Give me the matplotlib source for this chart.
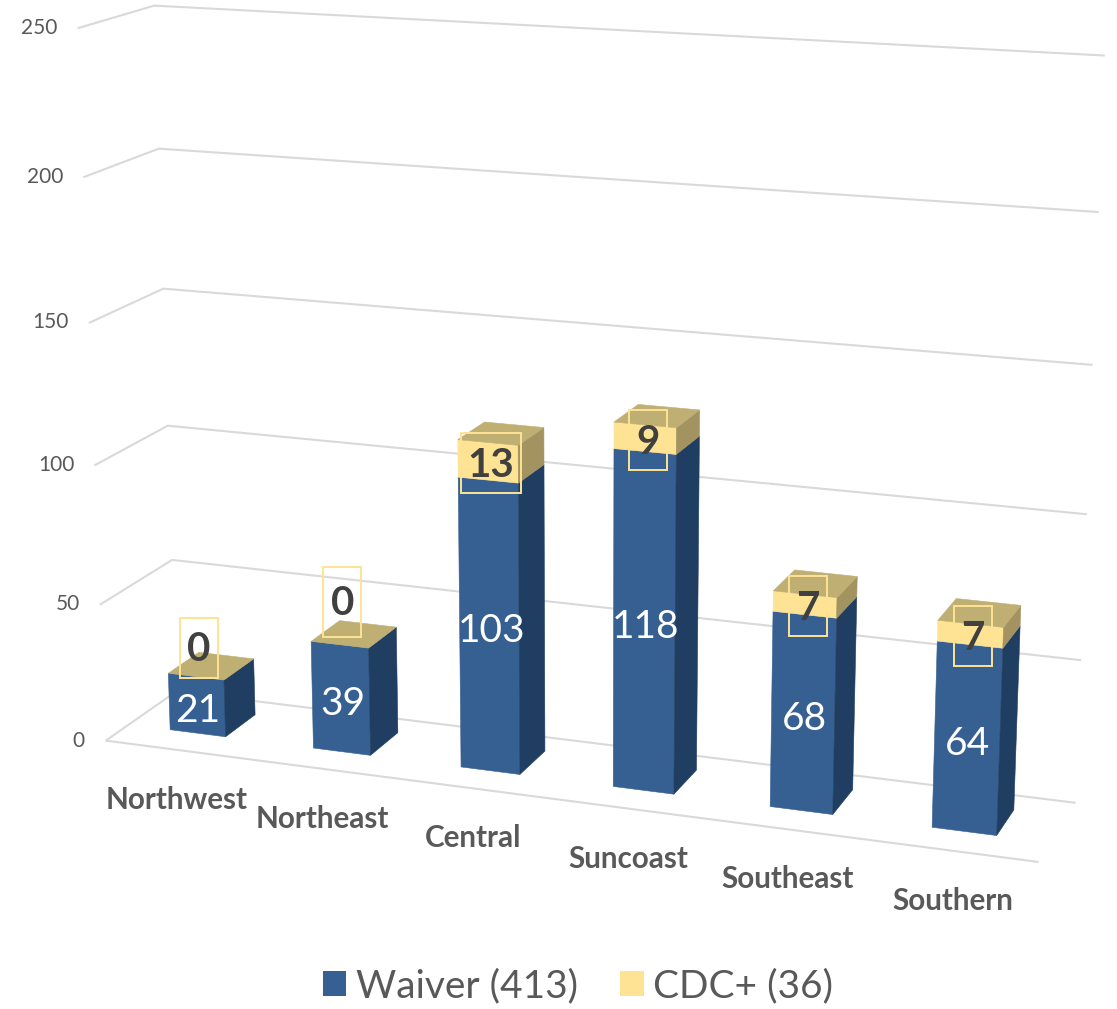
"""Fake 3D stacked columns, drawn through a fitted perspective projection."""

import matplotlib
matplotlib.use("Agg")
import matplotlib.pyplot as plt
from matplotlib.patches import Patch, Polygon, Rectangle
import numpy as np

regions = ["Northwest", "Northeast", "Central", "Suncoast", "Southeast", "Southern"]
waiver = [21, 39, 103, 118, 68, 64]
cdc = [0, 0, 13, 9, 7, 7]
ticks = [0, 50, 100, 150, 200, 250]
legend_labels = ["Waiver (413)", "CDC+ (36)"]

BLUE = "#376092"
BLUE_SIDE = "#203E62"
YELLOW = "#FEE395"
YELLOW_SIDE = "#A29360"
TAN = "#C0AF72"
GRID = "#D9D9D9"

# chart box corners on screen: (x across, depth, value) -> pixel
left_front = {0: (107, 740), 50: (101, 603), 100: (95, 466), 150: (89, 323), 200: (84, 177), 250: (78, 28)}
left_back = {0: (175, 693), 50: (172, 559), 100: (168, 425), 150: (163, 289), 200: (160, 149), 250: (155, 5)}
right_back = {0: (1075, 802), 50: (1081, 660), 100: (1085, 515), 150: (1090, 365), 200: (1097, 212), 250: (1105, 55)}
right_front_floor = (1038, 862)


def fit_projection():
    rows, rhs = [], []

    def add(u, d, v, px, py):
        w = v / 250
        rows.append([u, d, w, 1, 0, 0, 0, 0, -px * u, -px * d, -px * w])
        rhs.append(px)
        rows.append([0, 0, 0, 0, u, d, w, 1, -py * u, -py * d, -py * w])
        rhs.append(py)

    for v in ticks:
        add(0, 0, v, *left_front[v])
        add(0, 1, v, *left_back[v])
        add(1, 1, v, *right_back[v])
    add(1, 0, 0, *right_front_floor)
    p = np.linalg.lstsq(np.array(rows, float), np.array(rhs, float), rcond=None)[0]
    return np.append(p, 1).reshape(3, 4)


P = fit_projection()


def proj(u, d, v):
    h = P @ np.array([u, d, v / 250, 1.0])
    return h[0] / h[2], h[1] / h[2]


BAR_W = 0.0325
D0, D1 = 0.32, 0.76
ZERO_LABEL_DY = {0: -27, 1: -41}

fig = plt.figure(figsize=(11.17, 10.09), dpi=100)
ax = fig.add_axes([0, 0, 1, 1])
ax.set_xlim(0, 1117)
ax.set_ylim(1009, 0)
ax.axis("off")
plt.rcParams["font.family"] = ["Lato", "DejaVu Sans"]

# walls and floor
for v in ticks:
    pts = [proj(0, 0, v), proj(0, 1, v), proj(1, 1, v)]
    if v == 0:
        pts = [proj(1, 0, 0)] + pts
    ax.plot(*zip(*pts), color=GRID, lw=1.5, zorder=1, solid_joinstyle="miter")
    x, y = proj(0, 0, v)
    ax.text(x - 21, y, str(v), ha="right", va="center", fontsize=15, color="#595959")


def box(u0, u1, v0, v1, front, side, top=None, z=2):
    ax.add_patch(Polygon([proj(u0, D0, v0), proj(u1, D0, v0), proj(u1, D0, v1), proj(u0, D0, v1)],
                         fc=front, ec=front, lw=0.4, zorder=z))
    ax.add_patch(Polygon([proj(u1, D0, v0), proj(u1, D1, v0), proj(u1, D1, v1), proj(u1, D0, v1)],
                         fc=side, ec=side, lw=0.4, zorder=z))
    if top:
        ax.add_patch(Polygon([proj(u0, D0, v1), proj(u1, D0, v1), proj(u1, D1, v1), proj(u0, D1, v1)],
                             fc=top, ec=top, lw=0.4, zorder=z))


for i, name in enumerate(regions):
    c = (i + 0.5) / 6 - 0.002
    u0, u1 = c - BAR_W, c + BAR_W
    base, extra = waiver[i], cdc[i]
    box(u0, u1, 0, base, BLUE, BLUE_SIDE, TAN if extra == 0 else None)
    if extra:
        box(u0, u1, base, base + extra, YELLOW, YELLOW_SIDE, TAN, z=3)

    mx, my0 = proj(c, D0, 0)
    _, my1 = proj(c, D0, base)
    ax.text(mx + 0.7 * i, (my0 + my1) / 2 + 6, str(base), ha="center", va="center", fontsize=28, color="white", zorder=5)

    if extra:
        lx, ly = proj(c, D0, base + extra / 2)
        lx += 3
        ly += 4
    else:
        lx, ly = proj(c, D0, base)
        lx += 2.5
        ly += ZERO_LABEL_DY[i]
    ax.text(lx, ly, str(extra), ha="center", va="center", fontsize=29, fontweight="bold", color="#404040", zorder=6)
    bw = 60 if extra > 9 else 38
    bh = 70 if i == 1 else 60
    ax.add_patch(Rectangle((lx - bw / 2, ly - 2 - bh / 2), bw, bh, fill=False, ec=YELLOW, lw=1.4, zorder=6))

    fx, fy = proj((i + 0.5) / 6, 0, 0)
    ax.text(fx, fy + 50, name, ha="center", va="center", fontsize=21.3, fontweight="bold", color="#595959")

handles = [Patch(fc=BLUE), Patch(fc=YELLOW)]
ax.legend(handles, legend_labels, loc="center", bbox_to_anchor=(578 / 1117, 1 - 986 / 1009), ncol=2, frameon=False,
          fontsize=28, labelcolor="#595959", handlelength=0.6, handleheight=0.6, handletextpad=0.25, columnspacing=1.1)

fig.savefig("out.png", dpi=100)
plt.close(fig)
